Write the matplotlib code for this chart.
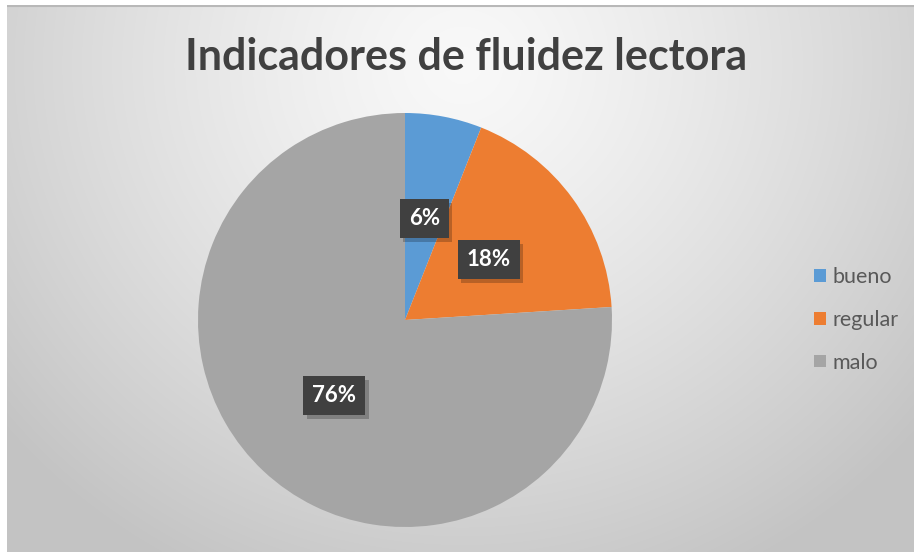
import numpy as np
import matplotlib.pyplot as plt
import matplotlib.patheffects as pe

title = "Indicadores de fluidez lectora"
labels = ["bueno", "regular", "malo"]
values = [6, 18, 76]
colors = ["#5B9BD5", "#ED7D31", "#A5A5A5"]

W, H = 914, 552
fig = plt.figure(figsize=(W / 100, H / 100), dpi=100)
fig.patch.set_facecolor("white")

# radial gradient background of the chart area
bg = fig.add_axes([7 / W, 0, (W - 7) / W, (H - 5) / H], zorder=-10)
yy, xx = np.mgrid[0:547, 0:907]
r = np.hypot(xx - 455, (yy - 60) * 1.05)
t = np.clip(r / 600, 0, 1) ** 1.3
c0, c1 = 0.975, 0.765
img = c0 + (c1 - c0) * t
bg.imshow(np.dstack([img] * 3), aspect="auto", interpolation="bilinear")
bg.axhline(0, color="#b8b8b8", lw=1.5)
bg.set_axis_off()

# pie
cx, cy, rad = 405, 320, 207
ax = fig.add_axes([(cx - rad) / W, (H - cy - rad) / H, 2 * rad / W, 2 * rad / H])
wedges, texts, autotexts = ax.pie(
    values, colors=colors, startangle=90, counterclock=False,
    autopct="%1.0f%%", pctdistance=0.5,
    textprops=dict(color="white", fontsize=16, fontweight="bold", family="Lato"),
)
ax.set_xlim(-1, 1)
ax.set_ylim(-1, 1)
ax.set_aspect("equal")
for t_ in autotexts:
    t_.set_bbox(dict(boxstyle="square,pad=0.4", fc="#404040", ec="none"))
    t_.get_bbox_patch().set_path_effects(
        [pe.SimplePatchShadow(offset=(2.5, -3), shadow_rgbFace="black", alpha=0.22), pe.Normal()]
    )

fig.text(466 / W, 1 - 57 / H, title, ha="center", va="center",
         fontsize=31, fontweight="bold", color="#404040", family="Lato")

fig.legend(wedges, labels, loc="center left", bbox_to_anchor=(795 / W, 1 - 320 / H),
           frameon=False, labelcolor="#595959",
           handlelength=0.55, handleheight=0.55, handletextpad=0.3,
           labelspacing=1.05, prop=dict(family="Lato", size=15.5))

fig.savefig("out.png", dpi=100)
